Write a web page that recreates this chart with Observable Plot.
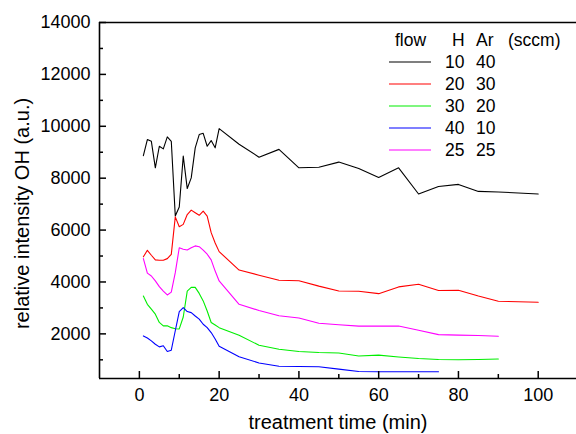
<!DOCTYPE html>
<html><head><meta charset="utf-8">
<script src="https://cdn.jsdelivr.net/npm/d3@7"></script>
<script src="https://cdn.jsdelivr.net/npm/@observablehq/plot@0.6"></script>
<style>
html,body{margin:0;padding:0;background:#fff;}
#wrap{position:relative;width:576px;height:434px;overflow:hidden;font-family:"Liberation Sans",Arial,sans-serif;color:#000;}
#wrap > svg.legend{position:absolute;left:0;top:0;pointer-events:none;}
</style></head><body><div id="wrap"></div>
<script>
// ---- tick values ----
const xTicks = [0, 20, 40, 60, 80, 100];
const xMinor = [10, 30, 50, 70, 90];
const yTicks = [2000, 4000, 6000, 8000, 10000, 12000, 14000];
const yMinor = [1000, 3000, 5000, 7000, 9000, 11000, 13000];
const xDomain = [-10, 109.6];
const yDomain = [280, 14000];

// ---- series (time in min, relative OH intensity) ----
const tLong = [1,2,3,4,5,6,7,8,9,10,11,12,13,14,15,16,17,18,19,20,25,30,35,40,45,50,55,60,65,70,75,80,85,90,95,100];
const tMid  = [1,2,3,4,5,6,7,8,9,10,11,12,13,14,15,16,17,18,19,20,25,30,35,40,45,50,55,60,65,70,75,80,85,90];
const tShort= [1,2,3,4,5,6,7,8,9,10,11,12,13,14,15,16,17,18,19,20,25,30,35,40,45,50,55,60,65,70,75];

const h10ar40 = [8870,9490,9420,8400,9230,9130,9590,9420,6540,6890,8850,7600,8010,9170,9680,9730,9230,9450,9170,9910,
                 9310,8810,9110,8400,8420,8620,8370,8030,8400,7390,7680,7760,7490,7470,7430,7390];
const h20ar30 = [4970,5220,5030,4850,4835,4835,4900,5065,6510,6130,6220,6600,6770,6670,6570,6730,6540,5900,5500,5170,
                 4460,4260,4065,4050,3840,3650,3640,3550,3810,3910,3670,3680,3460,3260,3240,3220];
const h30ar20 = [3460,3140,2950,2760,2440,2310,2310,2240,2200,2190,2650,3650,3790,3790,3560,3270,2880,2440,2340,2240,
                 1950,1560,1410,1320,1280,1260,1150,1180,1110,1050,1010,1000,1010,1030];
const h40ar10 = [1920,1840,1730,1600,1500,1540,1320,1370,2120,2860,3010,2860,2820,2690,2570,2370,2240,2050,1800,1520,
                 1120,880,750,740,730,640,550,540,540,540,540];
const h25ar25 = [4900,4340,4230,4040,3820,3650,3500,3610,4360,5320,5260,5230,5320,5390,5360,5230,5070,4850,4420,4040,
                 3140,2900,2700,2610,2410,2350,2300,2300,2300,2140,1970,1950,1940,1910];

const seriesNames = ["10/40", "20/30", "30/20", "40/10", "25/25"];
const hFlow  = ["10", "20", "30", "40", "25"];
const arFlow = ["40", "30", "20", "10", "25"];
const seriesColors = ["#000000", "#ff0000", "#00ee00", "#0000ff", "#ff00ff"];
const seriesTimes = [tLong, tLong, tMid, tShort, tMid];
const seriesValues = [h10ar40, h20ar30, h30ar20, h40ar10, h25ar25];
const legendHeader = ["flow", "H", "Ar", "(sccm)"];

const rows = [];
seriesNames.forEach((name, i) => {
  seriesTimes[i].forEach((t, j) => rows.push({series: name, t, v: seriesValues[i][j]}));
});

const W = 576, H = 434, mL = 99, mT = 22, mB = 56, mR = 0;
const frameH = H - mT - mB, frameW = W - mL - mR;
const font = '"Liberation Sans", Arial, sans-serif';

const chart = Plot.plot({
  width: W, height: H,
  marginLeft: mL, marginTop: mT, marginBottom: mB, marginRight: mR,
  x: {domain: xDomain, axis: null},
  y: {domain: yDomain, axis: null},
  color: {domain: seriesNames, range: seriesColors},
  style: {fontFamily: font, fontSize: "18px", color: "#000", background: "#fff"},
  marks: [
    Plot.line(rows, {x: "t", y: "v", z: "series", stroke: "series", strokeWidth: 1.1}),
    // frame (top, left, bottom)
    Plot.ruleY([yDomain[1]], {stroke: "#000", strokeWidth: 1.5}),
    Plot.ruleY([yDomain[0]], {stroke: "#000", strokeWidth: 1.6}),
    Plot.ruleX([xDomain[0]], {stroke: "#000", strokeWidth: 1.6}),
    // inward ticks
    Plot.tickX(xTicks, {x: d => d, insetTop: frameH - 7, stroke: "#000", strokeWidth: 1.5}),
    Plot.tickX(xMinor, {x: d => d, insetTop: frameH - 4, stroke: "#000", strokeWidth: 1.5}),
    Plot.tickY(yTicks, {y: d => d, insetRight: frameW - 7, stroke: "#000", strokeWidth: 1.5}),
    Plot.tickY(yMinor, {y: d => d, insetRight: frameW - 4, stroke: "#000", strokeWidth: 1.5}),
    // tick labels
    Plot.axisX(xTicks, {tickSize: 0, tickPadding: 10, tickFormat: d3.format("d"), label: null, fontSize: 18, fill: "#000"}),
    Plot.axisY(yTicks, {tickSize: 0, tickPadding: 9, tickFormat: d3.format("d"), label: null, fontSize: 18, fill: "#000"}),
    // axis titles
    Plot.text(["treatment time (min)"], {text: d => d, frameAnchor: "bottom", dy: 44, fontSize: 20, lineAnchor: "middle", fill: "#000"}),
    Plot.text(["relative intensity OH (a.u.)"], {text: d => d, frameAnchor: "left", rotate: -90, dx: -77, dy: 13, fontSize: 20, lineAnchor: "middle", textAnchor: "middle", fill: "#000"})
  ]
});

const wrap = document.getElementById("wrap");
wrap.appendChild(chart);

// ---- legend overlay (SVG) ----
const lg = d3.select(wrap).append("svg")
  .attr("class", "legend")
  .attr("width", W).attr("height", H)
  .style("font-family", font).style("font-size", "17.5px");
const headX = [395, 452, 476, 508];
legendHeader.forEach((txt, k) => {
  lg.append("text").attr("x", headX[k]).attr("y", 40).attr("dy", "0.35em").attr("fill", "#000").text(txt);
});
seriesNames.forEach((name, i) => {
  const cy = 62 + i * 22;
  lg.append("line").attr("x1", 389).attr("x2", 431).attr("y1", cy).attr("y2", cy)
    .attr("stroke", seriesColors[i]).attr("stroke-width", 1.2);
  lg.append("text").attr("x", 445).attr("y", cy).attr("dy", "0.35em").attr("fill", "#000").text(hFlow[i]);
  lg.append("text").attr("x", 476).attr("y", cy).attr("dy", "0.35em").attr("fill", "#000").text(arFlow[i]);
});
</script>
</body></html>
